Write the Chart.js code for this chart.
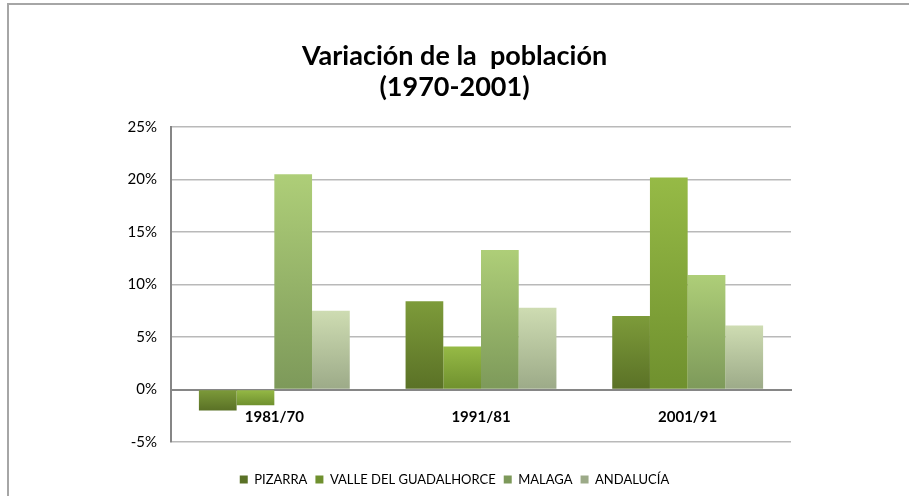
<!DOCTYPE html>
<html>
<head>
<meta charset="utf-8">
<script src="https://cdn.jsdelivr.net/npm/chart.js@4"></script>
<style>
  html, body { margin: 0; padding: 0; background: #fff; }
  #wrap { position: relative; width: 909px; height: 496px; overflow: hidden; }
  #frame { position: absolute; left: 7px; top: 3px; width: 960px; height: 560px;
           border-left: 2px solid #a6a6a6; border-top: 2px solid #a6a6a6; }
  canvas { position: absolute; left: 0; top: 0; }
</style>
</head>
<body>
<div id="wrap">
  <div id="frame"></div>
  <canvas id="chart" width="909" height="496"></canvas>
</div>
<script>
// ── Data ─────────────────────────────────────────────────────────────────────
const periods   = ['1981/70', '1991/81', '2001/91'];
const pizarra   = [-2.0, 8.4, 7.0];
const valle     = [-1.5, 4.1, 20.2];
const malaga    = [20.5, 13.3, 10.9];
const andalucia = [7.5, 7.8, 6.1];
const yTicks    = [-5, 0, 5, 10, 15, 20, 25];

// ── Bar gradients (light top, dark bottom, per bar) ──────────────────────────
function barFill(top, bottom, mid) {
  return ctx => {
    const chart = ctx.chart;
    if (ctx.raw === undefined || !chart.chartArea || !chart.scales.y) return mid;
    const y = chart.scales.y;
    const p1 = y.getPixelForValue(Math.max(ctx.raw, 0));
    const p2 = y.getPixelForValue(Math.min(ctx.raw, 0));
    if (!isFinite(p1) || !isFinite(p2) || p1 === p2) return mid;
    const g = chart.ctx.createLinearGradient(0, p1, 0, p2);
    g.addColorStop(0, top);
    g.addColorStop(1, bottom);
    return g;
  };
}

const FONT = 'Lato, "Noto Sans", sans-serif';

// spacer axes: keep title/legend centred on the whole canvas while the
// plot area sits where the original has it
const spacer = size => ({
  display: true,
  grid: { display: false },
  border: { display: false },
  ticks: { display: false },
  afterFit: s => { if (s.isHorizontal()) s.height = size; else s.width = size; }
});

new Chart(document.getElementById('chart'), {
  type: 'bar',
  data: {
    labels: periods,
    datasets: [
      { label: 'PIZARRA', data: pizarra, backgroundColor: barFill('#7d9b3a', '#5a7126', '#6b8630') },
      { label: 'VALLE DEL GUADALHORCE', data: valle, backgroundColor: barFill('#96ba46', '#6f902e', '#86a83c') },
      { label: 'MALAGA', data: malaga, backgroundColor: barFill('#aece78', '#7d995a', '#98b46a') },
      { label: 'ANDALUCÍA', data: andalucia, backgroundColor: barFill('#cedcb2', '#9caa88', '#b6c49e') }
    ]
  },
  options: {
    responsive: false,
    animation: false,
    layout: { padding: 0 },
    datasets: { bar: { categoryPercentage: 0.73, barPercentage: 1.0, borderWidth: 0 } },
    plugins: {
      title: {
        display: true,
        text: ['Variación de la  población', '(1970-2001)'],
        color: '#000',
        font: { family: FONT, size: 27, weight: 'bold', lineHeight: 1.15 },
        padding: { top: 41, bottom: 24 }
      },
      legend: {
        position: 'bottom',
        labels: {
          color: '#000',
          font: { family: FONT, size: 13 },
          boxWidth: 8,
          boxHeight: 8,
          padding: 8
        }
      },
      tooltip: { enabled: false }
    },
    scales: {
      x: {
        position: { y: 0 },
        grid: { display: false },
        border: { display: true, color: '#868686', width: 2 },
        ticks: { color: '#000', padding: 11, font: { family: FONT, size: 15, weight: 'bold' } }
      },
      xGap: Object.assign({ type: 'category', position: 'bottom' }, spacer(23)),
      y: {
        min: yTicks[0],
        max: yTicks[yTicks.length - 1],
        afterFit: scale => { scale.width = 171; },
        afterBuildTicks: scale => { scale.ticks = yTicks.map(v => ({ value: v })); },
        grid: {
          drawTicks: false,
          color: '#b9b9b9',
          lineWidth: 1.5
        },
        border: { display: true, color: '#868686', width: 2 },
        ticks: {
          color: '#000',
          padding: 14,
          font: { family: FONT, size: 15 },
          callback: v => v + '%'
        }
      },
      yGap: Object.assign({ type: 'linear', position: 'right' }, spacer(118))
    }
  }
});
</script>
</body>
</html>
